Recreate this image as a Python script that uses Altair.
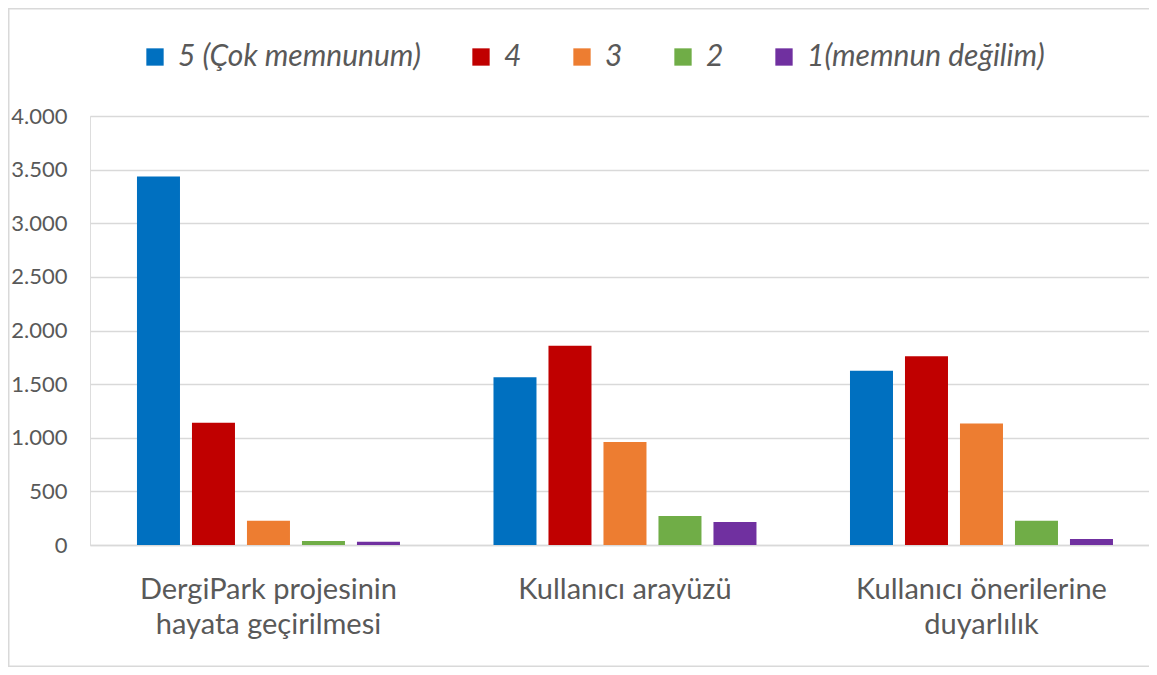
import altair as alt
import pandas as pd

categories = ["DergiPark projesinin|hayata geçirilmesi", "Kullanıcı arayüzü", "Kullanıcı önerilerine|duyarlılık"]
series = ["5 (Çok memnunum)", "4", "3", "2", "1(memnun değilim)"]
colors = ["#0070C0", "#C00000", "#ED7D31", "#70AD47", "#7030A0"]
s5 = [3435, 1565, 1624]
s4 = [1140, 1857, 1760]
s3 = [225, 961, 1132]
s2 = [38, 271, 227]
s1 = [30, 215, 56]

rows = []
for name, vals in zip(series, [s5, s4, s3, s2, s1]):
    for c, v in zip(categories, vals):
        rows.append({"cat": c, "series": name, "value": v})
df = pd.DataFrame(rows)

FONT = "Lato"
GREY = "#595959"

bars = alt.Chart(df).mark_bar().encode(
    x=alt.X("cat:N", sort=categories, title=None,
            scale=alt.Scale(paddingInner=0.2623, paddingOuter=0.1164, align=0.566),
            axis=alt.Axis(labelExpr="split(datum.label, '|')", labelAngle=0,
                          labelFontSize=29, labelColor=GREY, labelFont=FONT,
                          labelPadding=30, labelLineHeight=35, labelLimit=0,
                          ticks=False, domain=True, domainColor="#D9D9D9", domainWidth=1.5)),
    xOffset=alt.XOffset("series:N", sort=series,
                        scale=alt.Scale(paddingInner=0.218, paddingOuter=0)),
    y=alt.Y("value:Q", title=None,
            scale=alt.Scale(domain=[0, 4000], nice=False),
            axis=alt.Axis(values=[0, 500, 1000, 1500, 2000, 2500, 3000, 3500, 4000],
                          labelExpr="replace(format(datum.value, ','), ',', '.')",
                          labelFontSize=22, labelColor=GREY, labelFont=FONT,
                          labelPadding=23, ticks=False, domain=False,
                          gridColor="#D9D9D9", gridWidth=1.5)),
    color=alt.Color("series:N", sort=series,
                    scale=alt.Scale(domain=series, range=colors),
                    legend=alt.Legend(title=None, orient="none", direction="horizontal",
                                      legendX=50, legendY=-74,
                                      symbolType="square", symbolSize=300,
                                      symbolStrokeWidth=0, labelLimit=0,
                                      labelFontSize=30, labelFontStyle="italic",
                                      labelColor=GREY, labelFont=FONT,
                                      columnPadding=45, labelOffset=8)),
)

edge = alt.Data(values=[{}])
left_edge = alt.Chart(edge).mark_rect(color="#D9D9D9").encode(
    x=alt.value(-82), x2=alt.value(-80.5), y=alt.value(-108), y2=alt.value(551))
top_edge = alt.Chart(edge).mark_rect(color="#D9D9D9").encode(
    x=alt.value(-82), x2=alt.value(1059), y=alt.value(-108), y2=alt.value(-106.5))
bottom_edge = alt.Chart(edge).mark_rect(color="#D9D9D9").encode(
    x=alt.value(-82), x2=alt.value(1059), y=alt.value(549.5), y2=alt.value(551))

chart = alt.layer(left_edge, top_edge, bottom_edge, bars).properties(
    width=1059, height=429,
    autosize=alt.AutoSizeParams(type="none"),
    padding={"left": 82, "top": 108, "right": 0, "bottom": 122},
).configure_view(stroke=None).configure(background="white")

chart.save("out.html", embed_options={"renderer": "svg", "actions": False})
